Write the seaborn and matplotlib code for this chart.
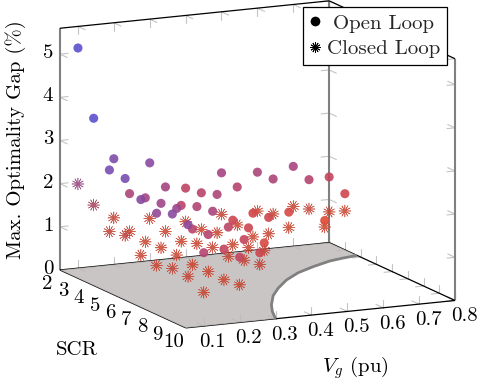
import matplotlib
matplotlib.use("Agg")
import matplotlib.pyplot as plt
from matplotlib.lines import Line2D
from matplotlib.colors import Normalize
from mpl_toolkits.mplot3d import proj3d
from mpl_toolkits.mplot3d.art3d import Poly3DCollection
import seaborn as sns

sns.set_theme(style="white")
plt.rcParams["font.family"] = ["cmr10"]
plt.rcParams["mathtext.fontset"] = "cm"
plt.rcParams["axes.unicode_minus"] = False

W, H = 485, 386

# Data: one list per Vg level, index = SCR level
vg_levels = [0.1, 0.2, 0.3, 0.4, 0.5, 0.6, 0.7, 0.8]
scr_levels = [2, 3, 4, 5, 6, 7, 8, 9, 10]

open_vg01 = [5.10, 3.64, 2.61, 2.58, 2.26, 2.11, 2.26, 2.18, 1.70]
open_vg02 = [2.45, 1.81, 1.88, 1.92, 1.97, 1.66, 1.70, 1.53, 1.51]
open_vg03 = [2.27, 1.88, 1.62, 1.76, 1.82, 1.62, 1.50, 1.36]
open_vg04 = [1.60, 1.66, 1.79, 1.36, 1.35, 1.17]
open_vg05 = [1.87, 1.71, 1.27, 1.34]
open_vg06 = [1.80, 1.81, 1.21]
open_vg07 = [1.85, 1.71, 0.93]
open_vg08 = [1.52, 1.30]

closed_vg01 = [1.95, 1.63, 1.18, 1.26, 0.97, 0.90, 1.00, 0.98, 0.78]
closed_vg02 = [1.08, 0.93, 0.86, 0.89, 0.89, 0.83, 0.84, 0.82, 0.87]
closed_vg03 = [0.98, 0.85, 0.79, 0.90, 0.98, 0.94, 1.02, 1.09]
closed_vg04 = [0.82, 0.81, 0.90, 0.79, 0.89, 1.00]
closed_vg05 = [0.91, 0.83, 0.72, 0.96]
closed_vg06 = [0.90, 1.00, 0.85]
closed_vg07 = [0.92, 1.03, 0.78]
closed_vg08 = [0.71, 0.90]

# Stability boundary on the floor
boundary_vg = [0.80, 0.755, 0.71, 0.644, 0.58, 0.517, 0.457, 0.409, 0.359, 0.328, 0.30]
boundary_scr = [3.77, 3.91, 4.09, 4.54, 5.05, 5.74, 6.58, 7.36, 8.39, 9.16, 10.0]

vg_ticks = [0.1, 0.2, 0.3, 0.4, 0.5, 0.6, 0.7, 0.8]
vg_ticklabels = ["0.1", "0.2", "0.3", "0.4", "0.5", "0.6", "0.7", "0.8"]
scr_ticks = [2, 3, 4, 5, 6, 7, 8, 9, 10]
gap_ticks = [0, 1, 2, 3, 4, 5]

legend_labels = ["Open Loop", "Closed Loop"]
x_label = r"$V_g$ (pu)"
y_label = "SCR"
z_label = "Max. Optimality Gap (%)"

VG0, VG1 = 0.05, 0.8
S0, S1 = 2, 10
Z0, Z1 = 0, 5.6


def flatten(rows):
    xs, ys, zs = [], [], []
    for vg, row in zip(vg_levels, rows):
        for scr, gap in zip(scr_levels, row):
            xs.append(vg)
            ys.append(scr)
            zs.append(gap)
    return xs, ys, zs


open_rows = [open_vg01, open_vg02, open_vg03, open_vg04,
             open_vg05, open_vg06, open_vg07, open_vg08]
closed_rows = [closed_vg01, closed_vg02, closed_vg03, closed_vg04,
               closed_vg05, closed_vg06, closed_vg07, closed_vg08]

fig = plt.figure(figsize=(W / 100, H / 100), dpi=100, facecolor="white")
ax = fig.add_axes([0, 0, 1, 1], projection="3d", computed_zorder=False)
ax.set_proj_type("ortho")
ax.set_box_aspect((297.8, 295.9, 247.9))
ax.view_init(elev=12.5, azim=-115.2)
ax.set_xlim(VG0, VG1, view_margin=0)
ax.set_ylim(S1, S0, view_margin=0)
ax.set_zlim(Z0, Z1, view_margin=0)
ax.set_axis_off()
ax.patch.set_alpha(0)

# Fit the projected box to the layout of the reference
M = ax.get_proj()
XP, YP, _ = proj3d.proj_transform(VG0, S0, 0, M)
XQ, YQ, _ = proj3d.proj_transform(VG1, S1, 0, M)
vl = ax.viewLim
L = 395.0 / (XQ - XP) * (vl.x1 - vl.x0)
x0 = 60 - (XP - vl.x0) * L / (vl.x1 - vl.x0)
y0 = (H - 270) - (YP - vl.y0) * L / (vl.y1 - vl.y0)
ax.set_position([x0 / W, y0 / H, L / W, L / H])

# Colours follow the gap value
stops = ["#E04A30", "#D54844", "#BE4464", "#984690", "#804CA8", "#704EB9",
         "#5C50CD", "#5C50CD", "#5C50CD", "#5C50CD", "#5C50CD", "#5C50CD"]
star_stops = ["#C9432C", "#BE403A", "#A53F58", "#8C4080", "#7A469C", "#6C4AB0",
              "#5C50CD", "#5C50CD", "#5C50CD", "#5C50CD", "#5C50CD", "#5C50CD"]
cmap = sns.blend_palette(stops, n_colors=256, as_cmap=True)
star_cmap = sns.blend_palette(star_stops, n_colors=256, as_cmap=True)
norm = Normalize(0.8, 5.2)

TICK = "#c4c4c4"
dv, ds, dz = 8 / 359.3, 8 / 17.4, 8 / 43.2


def seg(a, b, **kw):
    ax.plot([a[0], b[0]], [a[1], b[1]], [a[2], b[2]], **kw)


tk = dict(color=TICK, lw=0.8, zorder=1)
for v in vg_ticks:
    seg((v, S1, 0), (v, S1, dz), **tk)
    seg((v, S1, 0), (v, S1 - ds, 0), **tk)
    seg((v, S0, 0), (v, S0, dz), **tk)
    seg((v, S0, 0), (v, S0 + ds, 0), **tk)
    seg((v, S0, Z1), (v, S0, Z1 - dz), **tk)
    seg((v, S0, Z1), (v, S0 + ds, Z1), **tk)
for s in scr_ticks:
    seg((VG1, s, 0), (VG1, s, dz), **tk)
    seg((VG1, s, 0), (VG1 - dv, s, 0), **tk)
    seg((VG1, s, Z1), (VG1, s, Z1 - dz), **tk)
    seg((VG1, s, Z1), (VG1 - dv, s, Z1), **tk)
for z in gap_ticks:
    seg((VG0, S0, z), (VG0 + dv, S0, z), **tk)
    seg((VG0, S0, z), (VG0, S0 + ds, z), **tk)
    seg((VG1, S0, z), (VG1 - dv, S0, z), **tk)
    seg((VG1, S0, z), (VG1, S0 + ds, z), **tk)
    seg((VG1, S1, z), (VG1 - dv, S1, z), **tk)
    seg((VG1, S1, z), (VG1, S1 - ds, z), **tk)

# Box edges
thin = dict(color="black", lw=0.9, zorder=2, solid_capstyle="butt")
thick = dict(color="#808080", lw=1.5, zorder=2, solid_capstyle="butt")
seg((VG0, S0, 0), (VG0, S0, Z1), **thick)
seg((VG1, S0, 0), (VG1, S0, Z1), **thick)
seg((VG1, S1, 0), (VG1, S1, Z1), **thick)
seg((VG0, S0, Z1), (VG1, S0, Z1), **thin)
seg((VG1, S0, Z1), (VG1, S1, Z1), **thin)
seg((VG0, S1, 0), (VG1, S1, 0), **thin)
seg((VG1, S0, 0), (VG1, S1, 0), **thin)
seg((VG0, S0, 0), (VG1, S0, 0), **thin)
seg((VG0, S0, 0), (VG0, S1, 0), **thin)

# Stable region on the floor
poly = [(VG0, S0, 0), (VG1, S0, 0)]
poly += [(v, s, 0) for v, s in zip(boundary_vg, boundary_scr)]
poly += [(VG0, S1, 0)]
floor = Poly3DCollection([poly], facecolors=[(0.752, 0.733, 0.733, 0.85)],
                         edgecolors="none", linewidths=0, zorder=3)
ax.add_collection3d(floor)
ax.plot(boundary_vg, boundary_scr, [0] * len(boundary_vg), color="#808080",
        lw=2.0, zorder=4, solid_capstyle="butt")

xc, yc, zc = flatten(closed_rows)
ax.scatter(xc, yc, zc, c=zc, cmap=star_cmap, norm=norm, marker=(12, 2, 0), s=72,
           linewidths=0.45, alpha=0.85, depthshade=False, zorder=5)
xo, yo, zo = flatten(open_rows)
ax.scatter(xo, yo, zo, c=zo, cmap=cmap, norm=norm, marker="o", s=43,
           linewidths=0, alpha=0.9, depthshade=False, zorder=6)


def label3d(x, y, z, s, dx, dy):
    X, Y, _ = proj3d.proj_transform(x, y, z, M)
    px = x0 + (X - vl.x0) * L / (vl.x1 - vl.x0) + dx
    py = y0 + (Y - vl.y0) * L / (vl.y1 - vl.y0) + dy
    fig.text(px / W, py / H, s, ha="center", va="center", fontsize=15,
             color="black")


for v, t in zip(vg_ticks, vg_ticklabels):
    label3d(v, S1, 0, t, 9, -16)
for s in scr_ticks:
    label3d(VG0, s, 0, str(s), -12.5, -14)
for z in gap_ticks:
    label3d(VG0, S0, z, str(z), -12, 1)

txt = dict(fontsize=15, ha="center", va="center", color="black")
fig.text(16 / W, 1 - 140 / H, z_label, rotation=90, **txt)
fig.text(77 / W, 1 - 350 / H, y_label, **txt)
fig.text(355 / W, 1 - 368 / H, x_label, **txt)

handles = [
    Line2D([], [], ls="none", marker="o", color="black", ms=7, mew=0),
    Line2D([], [], ls="none", marker=(12, 2, 0), color="black", ms=7.5, mew=0.6),
]
leg = fig.legend(handles, legend_labels, loc="upper right",
                 bbox_to_anchor=(447 / W, 1 - 7 / H),
                 borderaxespad=0, fancybox=False, framealpha=1, edgecolor="black",
                 fontsize=15, handlelength=0.5, handletextpad=0.3,
                 borderpad=0.34, labelspacing=0.32)
leg.get_frame().set_linewidth(0.9)
leg.set_zorder(20)
leg.get_texts()[0].set_position((6, 0))

fig.savefig("out.png", dpi=100)
